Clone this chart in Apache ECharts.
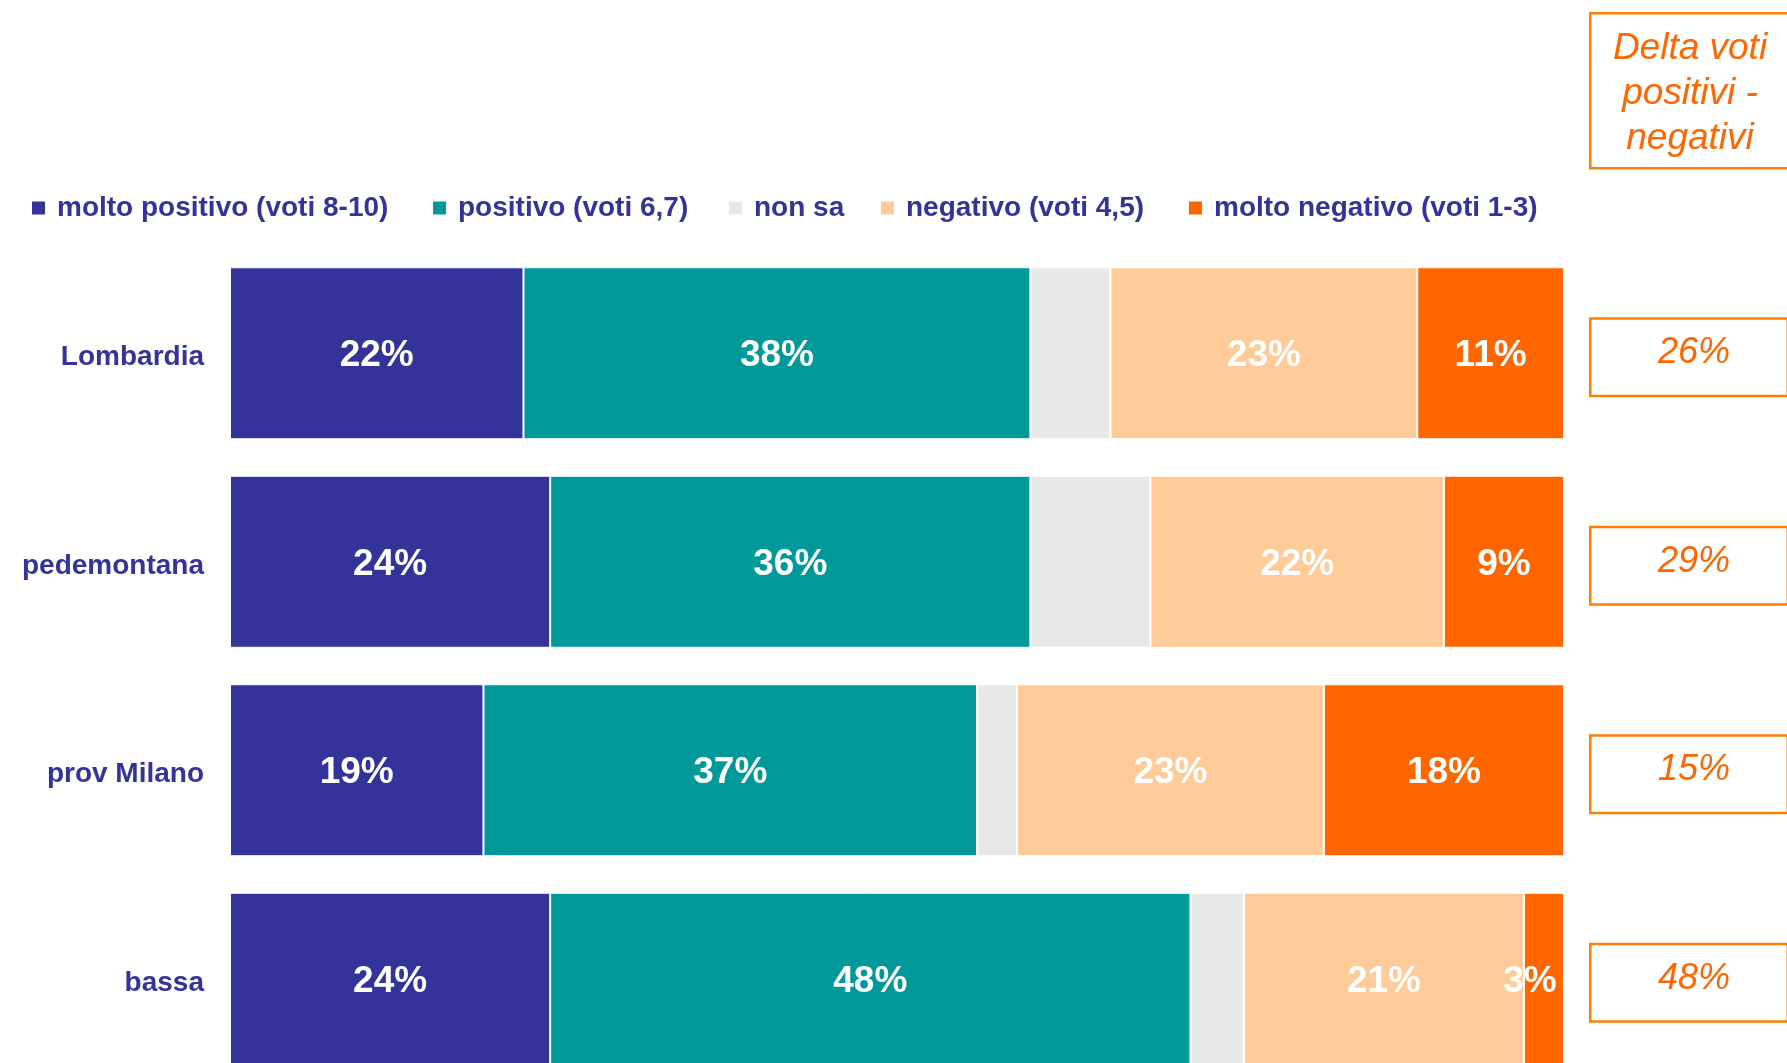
<!DOCTYPE html>
<html>
<head>
<meta charset="utf-8">
<script src="https://cdn.jsdelivr.net/npm/echarts@6/dist/echarts.min.js"></script>
<style>
html,body{margin:0;padding:0;background:#fff;}
#chart{width:1787px;height:1063px;}
</style>
</head>
<body>
<div id="chart"></div>
<script>
const categories = ['Lombardia', 'pedemontana', 'prov Milano', 'bassa'];
const seriesNames = ['molto positivo (voti 8-10)', 'positivo (voti 6,7)', 'non sa', 'negativo (voti 4,5)', 'molto negativo (voti 1-3)'];
const moltoPositivo = [22, 24, 19, 24];
const positivo = [38, 36, 37, 48];
const nonSa = [6, 9, 3, 4];
const negativo = [23, 22, 23, 21];
const moltoNegativo = [11, 9, 18, 3];
const delta = [26, 29, 15, 48];
const deltaTitle = 'Delta voti\npositivi -\nnegativi';

const colors = ['#333399', '#009999', '#E8E8E8', '#FFCC99', '#FF6600'];
const FONT = "'Liberation Sans', Arial, Helvetica, sans-serif";
const values = [moltoPositivo, positivo, nonSa, negativo, moltoNegativo];
const showLabel = [true, true, false, true, true];
const legendLeft = [30, 431, 727, 879, 1187];

const chart = echarts.init(document.getElementById('chart'), null, {renderer: 'canvas'});

const barSeries = seriesNames.map((name, i) => ({
  name: name,
  type: 'bar',
  stack: 'total',
  xAxisIndex: 0,
  yAxisIndex: 0,
  barWidth: 172,
  data: values[i].map(v => (v < 5 && showLabel[i]) ? {value: v, label: {offset: [-14, 3]}} : v),
  itemStyle: {color: colors[i], borderColor: '#ffffff', borderWidth: 1},
  label: {
    show: showLabel[i],
    position: 'inside',
    offset: [0, 3],
    formatter: p => p.value + '%',
    color: '#ffffff',
    fontFamily: FONT,
    fontWeight: 'bold',
    fontSize: 37
  },
  emphasis: {disabled: true},
  animation: false
}));

const option = {
  backgroundColor: '#ffffff',
  animation: false,
  legend: seriesNames.map((name, i) => ({
    data: [name],
    left: legendLeft[i],
    top: 193,
    padding: 0,
    icon: 'rect',
    itemWidth: 15,
    itemHeight: 15,
    selectedMode: false,
    textStyle: {color: '#333399', fontFamily: FONT, fontWeight: 'bold', fontSize: 28, lineHeight: 30, padding: [0, 0, 0, 6]}
  })),
  grid: [
    {left: 230, width: 1334, top: 249, height: 834, containLabel: false, outerBoundsMode: 'none'},
    {left: 1589, width: 200, top: 253, height: 834, containLabel: false, outerBoundsMode: 'none'}
  ],
  xAxis: [
    {type: 'value', gridIndex: 0, min: 0, max: 100, show: false},
    {type: 'value', gridIndex: 1, min: 0, max: 1, show: false}
  ],
  yAxis: [
    {
      type: 'category', gridIndex: 0, data: categories, inverse: true,
      axisLine: {show: false}, axisTick: {show: false}, splitLine: {show: false},
      axisLabel: {
        margin: 26,
        formatter: v => '{c|' + v + '}',
        rich: {c: {color: '#333399', fontFamily: FONT, fontWeight: 'bold', fontSize: 28, padding: [9, 0, 0, 0]}}
      }
    },
    {
      type: 'category', gridIndex: 1, data: categories, inverse: true, show: false
    }
  ],
  series: barSeries.concat([{
    name: 'delta',
    type: 'bar',
    xAxisIndex: 1,
    yAxisIndex: 1,
    barWidth: 80,
    data: delta.map(d => ({value: 1, delta: d})),
    itemStyle: {color: '#ffffff', borderColor: '#FF7F00', borderWidth: 2.5},
    label: {
      show: true,
      position: 'inside',
      offset: [5, -4],
      formatter: p => delta[p.dataIndex] + '%',
      color: '#FF6600',
      fontFamily: FONT,
      fontStyle: 'italic',
      fontSize: 36
    },
    emphasis: {disabled: true},
    animation: false,
    silent: true
  }]),
  graphic: [
    {
      type: 'rect',
      left: 1589, top: 12,
      shape: {width: 200, height: 155},
      style: {fill: '#ffffff', stroke: '#FF7F00', lineWidth: 2.5},
      silent: true
    },
    {
      type: 'text',
      x: 1690, y: 94,
      style: {
        text: deltaTitle,
        fill: '#FF6600',
        font: "italic 37px 'Liberation Sans', Arial, sans-serif",
        lineHeight: 45,
        align: 'center',
        verticalAlign: 'middle'
      },
      silent: true
    }
  ]
};
chart.setOption(option);
</script>
</body>
</html>
